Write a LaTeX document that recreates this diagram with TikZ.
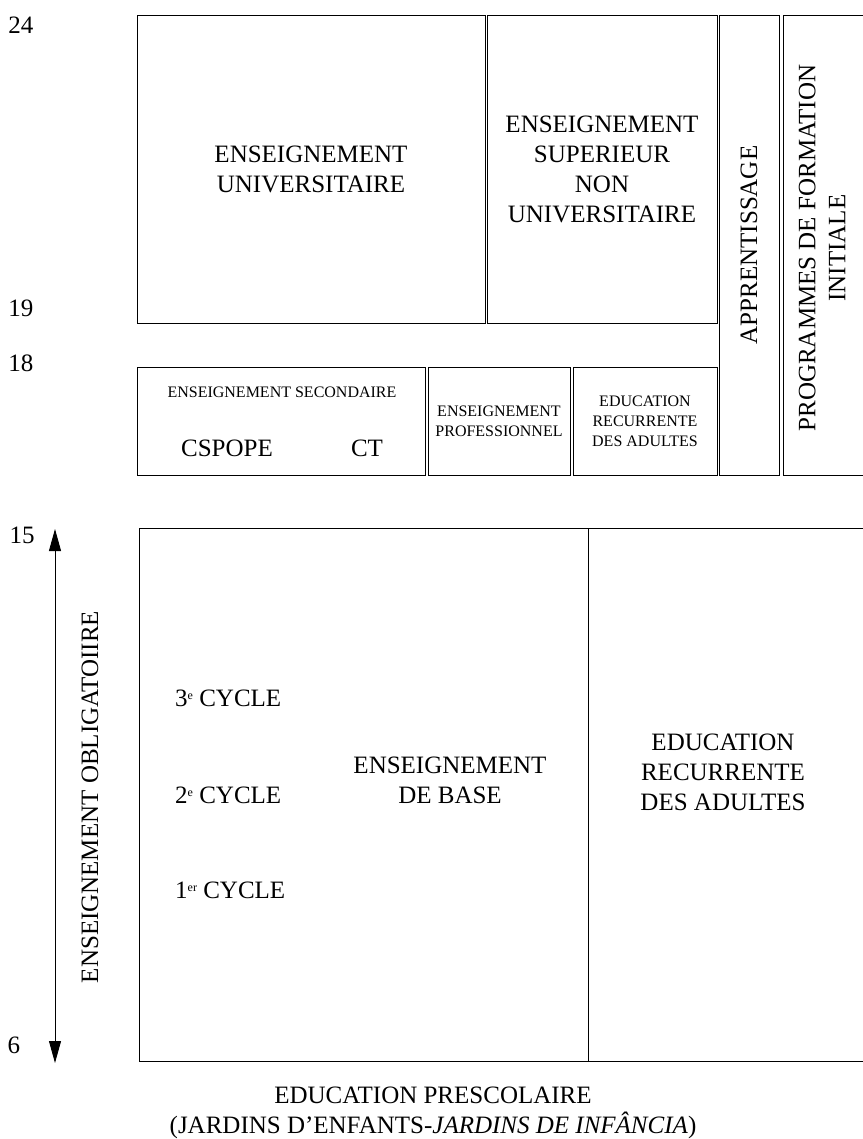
\documentclass[tikz,border=0pt]{standalone}
\usepackage{fontspec}
\setmainfont{Liberation Serif}
\usetikzlibrary{arrows.meta,positioning}
\newcommand{\sups}[1]{\raisebox{7pt}{\fontsize{12}{12}\selectfont #1}}
\tikzset{%
	box/.style   = {draw, rectangle, inner sep=0pt, line width=0.9pt}, % Box
	big/.style   = {font=\fontsize{25}{30}\selectfont, align=center, inner sep=0pt}, % Large text
	small/.style = {font=\fontsize{16}{20}\selectfont, align=center, inner sep=0pt}, % Small text
	age/.style   = {font=\fontsize{25}{30}\selectfont, inner sep=0pt}, % Age
	arrow/.style = {line width=0.9pt, {Triangle[length=22pt,width=12pt]}-{Triangle[length=22pt,width=12pt]}},
}
\begin{document}
\begin{tikzpicture}[x=1pt,y=-1pt]
	\useasboundingbox (0,0) rectangle (862,1139);
	% upper levels
	\node [box, big, minimum width=348pt, minimum height=308pt] (univ) at (311,169) {ENSEIGNEMENT\\UNIVERSITAIRE};
	\node [box, big, minimum width=230pt, minimum height=308pt] (sup) at (602,169) {ENSEIGNEMENT\\SUPERIEUR\\NON\\UNIVERSITAIRE};
	\node [box, minimum width=60pt, minimum height=460pt] (appr) at (749,245) {};
	\node [big, rotate=90] (apprt) at (appr.center) {APPRENTISSAGE};
	\node [box, minimum width=80pt, minimum height=460pt] (prog) at (823,245) {};
	\node [big, rotate=90] (progt) at (822,248) {PROGRAMMES DE FORMATION\\INITIALE};
	
	\node [box, minimum width=288pt, minimum height=108pt] (sec) at (281,421) {};
	\node [small] (sect) at (282,392) {ENSEIGNEMENT SECONDAIRE};
	\node [big] (cspope) at (227,448) {CSPOPE};
	\node [big] (ct) at (367,448) {CT};
	\node [box, small, minimum width=142pt, minimum height=108pt] (prof) at (499,421) {ENSEIGNEMENT\\PROFESSIONNEL};
	\node [box, small, minimum width=144pt, minimum height=108pt] (recur) at (645,421) {EDUCATION\\RECURRENTE\\DES ADULTES};
	
	% compulsory levels
	\node [box, minimum width=449pt, minimum height=533pt] (base) at (363.5,794.5) {};
	\node [big] (baset) at (450,780) {ENSEIGNEMENT\\DE BASE};
	\node [big, anchor=west] (c3) at (175,698) {3\sups{e} CYCLE};
	\node [big, anchor=west] (c2) at (175,795) {2\sups{e} CYCLE};
	\node [big, anchor=west] (c1) at (175,890) {1\sups{er} CYCLE};
	\node [box, minimum width=275pt, minimum height=533pt] (adult) at (725.5,794.5) {};
	\node [big] (adultt) at (723,772) {EDUCATION\\RECURRENTE\\DES ADULTES};
	
	\node [big] (presc) at (433,1113) {EDUCATION PRESCOLAIRE\\(JARDINS D’ENFANTS-\textit{JARDINS DE INFÂNCIA})};
	
	% ages
	\node [age] (a24) at (21,25) {24};
	\node [age] (a19) at (21,308) {19};
	\node [age] (a18) at (21,363) {18};
	\node [age] (a15) at (22,535) {15};
	\node [age] (a6) at (14,1045) {6};
	
	\coordinate (top) at (55,529);
	\coordinate (bot) at (55,1063);
	\draw [arrow] (bot) -- (top);
	\node [big, rotate=90] (oblig) at (90,797) {ENSEIGNEMENT OBLIGATOIIRE};
\end{tikzpicture}
\end{document}
